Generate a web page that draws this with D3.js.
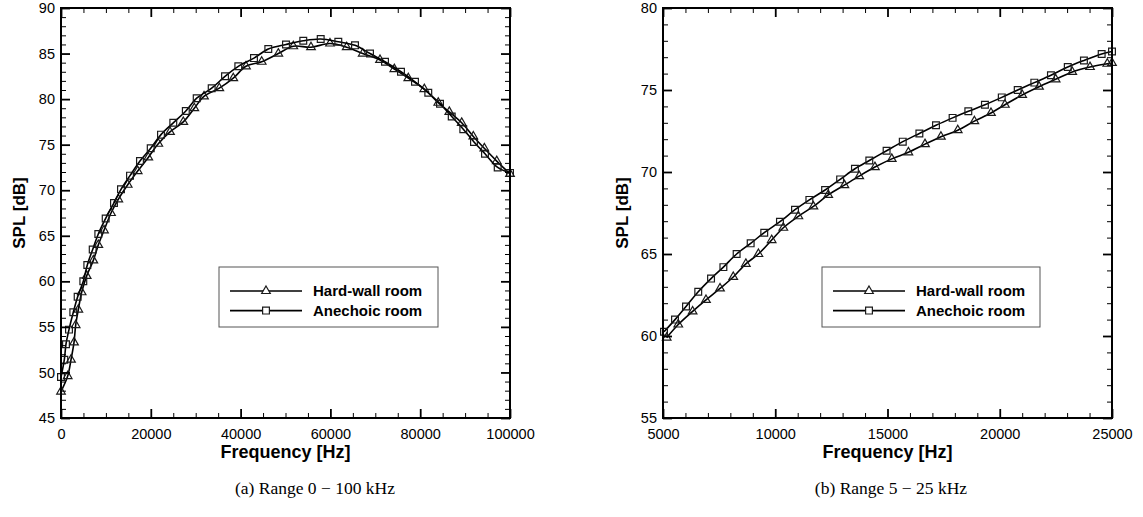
<!DOCTYPE html>
<html>
<head>
<meta charset="utf-8">
<script src="https://cdn.jsdelivr.net/npm/d3@7"></script>
<style>
  body { margin: 0; background: #fff; }
  svg { display: block; }
</style>
</head>
<body>
<script>
// (a) 0 - 100 kHz, [frequency Hz, SPL dB]
const fullHard = [
  [0, 47.9], [1490, 49.6], [2230, 51.4], [2900, 53.3], [3270, 55.2], [3860, 56.9],
  [4600, 58.8], [5720, 60.6], [7200, 62.3], [8310, 64.0], [9580, 65.6], [11140, 67.5],
  [12760, 69.0], [14860, 70.6], [17080, 72.1], [19440, 73.6], [21670, 75.1], [24280, 76.4],
  [27240, 77.5], [29690, 79.0], [31850, 80.3], [35260, 81.2], [38370, 82.3], [41200, 83.6],
  [44700, 84.1], [48400, 85.0], [51740, 85.8], [55680, 85.7], [59910, 86.1], [63630, 85.7],
  [67190, 85.0], [71050, 84.3], [74230, 83.3], [77350, 82.3], [80910, 81.1], [84030, 79.6],
  [86480, 78.6], [89240, 77.4], [91830, 75.9], [94280, 74.6], [97040, 73.2], [100000, 71.8]
];
const fullAnechoic = [
  [0, 49.5], [740, 51.4], [1110, 53.1], [1780, 54.7], [2740, 56.6], [3710, 58.3],
  [4970, 60.0], [5860, 61.8], [7060, 63.5], [8310, 65.2], [9950, 66.9], [11800, 68.6],
  [13360, 70.1], [15370, 71.6], [17590, 73.2], [19980, 74.6], [22270, 76.1], [25010, 77.4],
  [27800, 78.7], [30220, 80.1], [33560, 81.2], [36530, 82.5], [39490, 83.6], [42980, 84.5],
  [46170, 85.5], [50110, 86.0], [53960, 86.4], [57840, 86.6], [61760, 86.3], [65480, 85.9],
  [68820, 85.0], [72160, 84.1], [75720, 83.0], [78840, 81.9], [81800, 80.7], [84410, 79.5],
  [87020, 78.1], [89600, 76.7], [91980, 75.3], [94430, 74.0], [97260, 72.5], [100000, 71.9]
];

// (b) 5 - 25 kHz
const zoomHard = [
  [5165, 59.9], [5680, 60.7], [6320, 61.5], [6915, 62.2], [7540, 62.9], [8130, 63.6],
  [8690, 64.4], [9250, 65.0], [9840, 65.85], [10360, 66.6], [11030, 67.3], [11700, 67.9],
  [12360, 68.6], [13080, 69.2], [13740, 69.75], [14440, 70.3], [15190, 70.8], [15930, 71.2],
  [16670, 71.7], [17380, 72.15], [18130, 72.55], [18870, 73.1], [19610, 73.6], [20230, 74.1],
  [21000, 74.7], [21750, 75.2], [22490, 75.65], [23230, 76.1], [24020, 76.4], [24790, 76.6],
  [25000, 76.65]
];
const zoomAnechoic = [
  [5045, 60.26], [5535, 61.0], [6025, 61.8], [6570, 62.7], [7140, 63.5], [7690, 64.2],
  [8280, 65.0], [8905, 65.65], [9510, 66.3], [10210, 66.97], [10880, 67.7], [11520, 68.3],
  [12220, 68.9], [12890, 69.55], [13550, 70.2], [14190, 70.7], [14960, 71.3], [15680, 71.85],
  [16420, 72.35], [17160, 72.85], [17900, 73.3], [18600, 73.7], [19340, 74.1], [20090, 74.55],
  [20800, 75.0], [21540, 75.45], [22280, 75.9], [23030, 76.4], [23750, 76.8], [24540, 77.2],
  [25000, 77.35]
];

const seriesNames = ["Hard-wall room", "Anechoic room"];
const captions = ["(a) Range 0 \u2212 100 kHz", "(b) Range 5 \u2212 25 kHz"];
const xTitle = "Frequency [Hz]";
const yTitle = "SPL [dB]";

const sans = "'Liberation Sans', Arial, Helvetica, sans-serif";
const serif = "'Liberation Serif', 'Times New Roman', serif";

const svg = d3.select("body").append("svg")
  .attr("width", 1143)
  .attr("height", 517);

const panels = [
  {
    id: "a", left: 61, right: 510, top: 8, bottom: 418,
    xDomain: [0, 100000], xMajor: 20000, xMinor: 5000,
    yDomain: [45, 90], yMajor: 5, yMinor: 1,
    hard: fullHard, anech: fullAnechoic,
    legend: { x: 219, y: 267, w: 219, h: 60 },
    yTitleX: 25, caption: captions[0], captionX: 315
  },
  {
    id: "b", left: 663, right: 1112, top: 8, bottom: 418,
    xDomain: [5000, 25000], xMajor: 5000, xMinor: 1000,
    yDomain: [55, 80], yMajor: 5, yMinor: 1,
    hard: zoomHard, anech: zoomAnechoic,
    legend: { x: 822, y: 267, w: 218, h: 60 },
    yTitleX: 628, caption: captions[1], captionX: 891
  }
];

panels.forEach(drawPanel);

function drawPanel(cfg) {
  const g = svg.append("g");

  const x = d3.scaleLinear().domain(cfg.xDomain).range([cfg.left, cfg.right]);
  const y = d3.scaleLinear().domain(cfg.yDomain).range([cfg.bottom, cfg.top]);

  const xMajor = d3.range(cfg.xDomain[0], cfg.xDomain[1] + 1, cfg.xMajor);
  const xMinor = d3.range(cfg.xDomain[0], cfg.xDomain[1] + 1, cfg.xMinor)
    .filter((d) => (d - cfg.xDomain[0]) % cfg.xMajor !== 0);
  const yMajor = d3.range(cfg.yDomain[0], cfg.yDomain[1] + 0.01, cfg.yMajor);
  const yMinor = d3.range(cfg.yDomain[0], cfg.yDomain[1] + 0.01, cfg.yMinor)
    .filter((d) => (d - cfg.yDomain[0]) % cfg.yMajor !== 0);

  g.append("clipPath")
    .attr("id", "clip-" + cfg.id)
    .append("rect")
    .attr("x", cfg.left)
    .attr("y", cfg.top)
    .attr("width", cfg.right - cfg.left)
    .attr("height", cfg.bottom - cfg.top);

  // curves
  const line = d3.line()
    .x((d) => x(d[0]))
    .y((d) => y(d[1]))
    .curve(d3.curveCatmullRom.alpha(0.5));

  const series = [
    { data: cfg.hard, symbol: d3.symbolTriangle, size: 32 },
    { data: cfg.anech, symbol: d3.symbolSquare, size: 46 }
  ];

  series.forEach((s) => {
    g.append("path")
      .attr("clip-path", `url(#clip-${cfg.id})`)
      .attr("d", line(s.data))
      .attr("fill", "none")
      .attr("stroke", "#000")
      .attr("stroke-width", 1.6);

    g.selectAll(null)
      .data(s.data)
      .join("path")
      .attr("transform", (d) => `translate(${x(d[0])},${y(d[1])})`)
      .attr("d", d3.symbol().type(s.symbol).size(s.size))
      .attr("fill", "none")
      .attr("stroke", "#1a1a1a")
      .attr("stroke-width", 1.2);
  });

  // ticks on all four sides, pointing inward
  function addAxis(axis, tr, labeled, major) {
    const a = g.append("g").attr("transform", tr).call(axis);
    a.select(".domain").remove();
    a.selectAll("line").attr("stroke", "#000").attr("stroke-width", major ? 1.8 : 1);
    if (labeled) {
      a.selectAll("text")
        .attr("fill", "#000")
        .style("font-family", sans)
        .style("font-size", "14.5px");
    } else {
      a.selectAll("text").remove();
    }
  }

  const fmt = d3.format("d");
  addAxis(d3.axisBottom(x).tickValues(xMajor).tickSize(-9).tickPadding(11).tickFormat(fmt),
    `translate(0,${cfg.bottom})`, true, true);
  addAxis(d3.axisBottom(x).tickValues(xMinor).tickSize(-5),
    `translate(0,${cfg.bottom})`, false, false);
  addAxis(d3.axisTop(x).tickValues(xMajor).tickSize(-9),
    `translate(0,${cfg.top})`, false, true);
  addAxis(d3.axisTop(x).tickValues(xMinor).tickSize(-5),
    `translate(0,${cfg.top})`, false, false);
  addAxis(d3.axisLeft(y).tickValues(yMajor).tickSize(-9).tickPadding(6).tickFormat(fmt),
    `translate(${cfg.left},0)`, true, true);
  addAxis(d3.axisLeft(y).tickValues(yMinor).tickSize(-5),
    `translate(${cfg.left},0)`, false, false);
  addAxis(d3.axisRight(y).tickValues(yMajor).tickSize(-9),
    `translate(${cfg.right},0)`, false, true);
  addAxis(d3.axisRight(y).tickValues(yMinor).tickSize(-5),
    `translate(${cfg.right},0)`, false, false);

  g.append("rect")
    .attr("x", cfg.left)
    .attr("y", cfg.top)
    .attr("width", cfg.right - cfg.left)
    .attr("height", cfg.bottom - cfg.top)
    .attr("fill", "none")
    .attr("stroke", "#000")
    .attr("stroke-width", 2);

  // titles
  g.append("text")
    .attr("x", (cfg.left + cfg.right) / 2)
    .attr("y", 458)
    .attr("text-anchor", "middle")
    .style("font-family", sans)
    .style("font-size", "18px")
    .style("font-weight", "bold")
    .text(xTitle);

  g.append("text")
    .attr("transform", `translate(${cfg.yTitleX},${(cfg.top + cfg.bottom) / 2}) rotate(-90)`)
    .attr("text-anchor", "middle")
    .style("font-family", sans)
    .style("font-size", "17px")
    .style("font-weight", "bold")
    .text(yTitle);

  // legend
  const L = cfg.legend;
  const lg = g.append("g").attr("transform", `translate(${L.x},${L.y})`);
  lg.append("rect")
    .attr("width", L.w)
    .attr("height", L.h)
    .attr("fill", "#fff")
    .attr("stroke", "#555")
    .attr("stroke-width", 1);

  series.forEach((s, i) => {
    const ry = 24 + i * 19.6;
    lg.append("line")
      .attr("x1", 11)
      .attr("x2", 83)
      .attr("y1", ry)
      .attr("y2", ry)
      .attr("stroke", "#000")
      .attr("stroke-width", 1.6);
    lg.append("path")
      .attr("transform", `translate(47,${ry})`)
      .attr("d", d3.symbol().type(s.symbol).size(s.size))
      .attr("fill", "#fff")
      .attr("stroke", "#1a1a1a")
      .attr("stroke-width", 1.2);
    lg.append("text")
      .attr("x", 94)
      .attr("y", ry)
      .attr("dy", "0.36em")
      .style("font-family", sans)
      .style("font-size", "15px")
      .style("font-weight", "bold")
      .text(seriesNames[i]);
  });

  // sub-figure caption
  g.append("text")
    .attr("x", cfg.captionX)
    .attr("y", 494)
    .attr("text-anchor", "middle")
    .style("font-family", serif)
    .style("font-size", "17.5px")
    .text(cfg.caption);
}
</script>
</body>
</html>
